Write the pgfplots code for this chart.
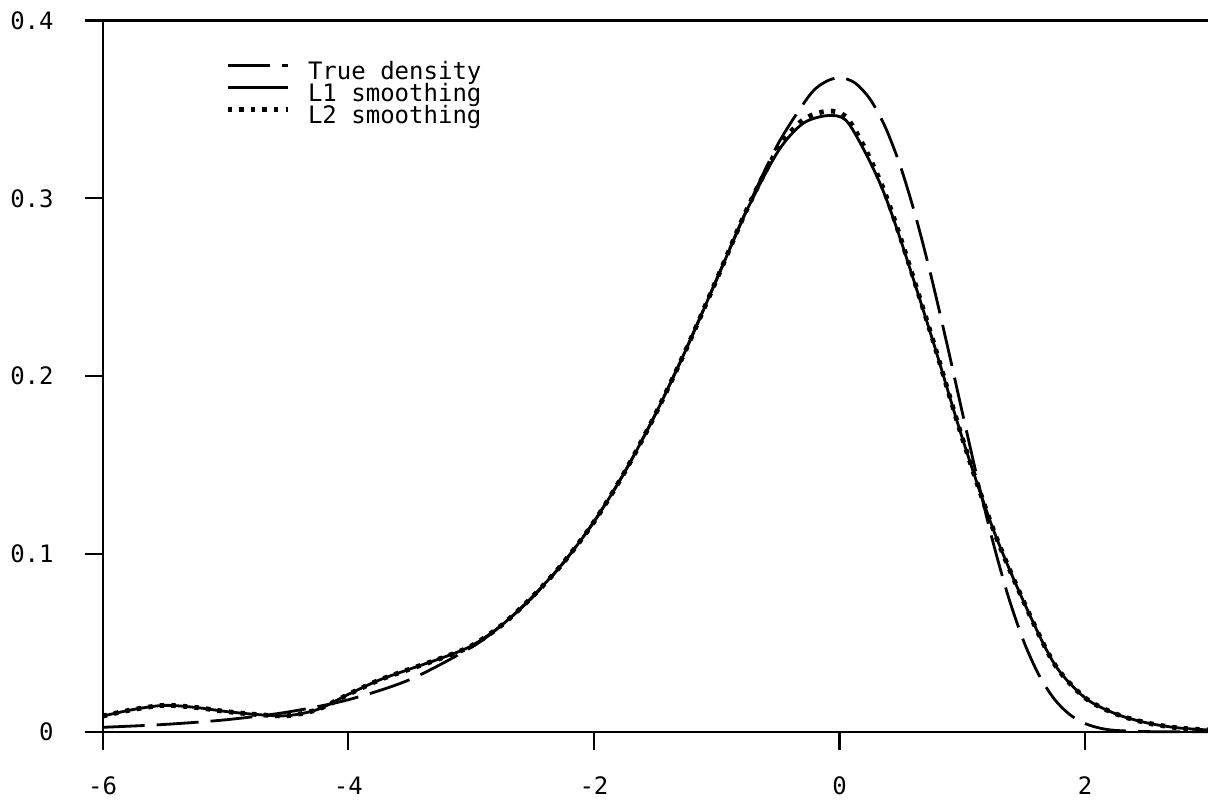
\documentclass[border=0pt]{standalone}
\usepackage{pgfplots}
\pgfplotsset{compat=1.18}
\usepackage{fontspec}
\setmonofont{DejaVu Sans Mono}
\begin{document}
\begin{tikzpicture}
\begin{axis}[
  scale only axis,
  width=552.65pt, height=355.6pt,
  xmin=-6, xmax=3, ymin=0, ymax=0.4,
  enlargelimits=false,
  axis lines*=left,
  axis line style={-, line width=1.1pt},
  tick align=outside,
  major tick length=9pt,
  tick style={line width=1.1pt, black},
  xtick={-6,-4,-2,0,2},
  xticklabels={-6,-4,-2,0,2},
  ytick={0,0.1,0.2,0.3,0.4},
  yticklabels={0,0.1,0.2,0.3,0.4},
  ticklabel style={font=\fontsize{12}{12}\selectfont\ttfamily},
  yticklabel style={xshift=-12pt},
  xticklabel style={yshift=-10pt},
  clip=false,
  legend style={draw=none, fill=none, at={(0.1105,0.941)}, anchor=north west,
    font=\fontsize{12}{12}\selectfont\ttfamily, inner sep=0pt,
    nodes={inner sep=0pt, text height=8.5pt, text depth=2pt},
    row sep=0.5pt, column sep=9pt},
  legend cell align=left,
  legend image code/.code={\draw[#1] (0pt,0.4em) -- (30pt,0.4em);},
]
\addplot[black, line width=1.4pt, dash pattern=on 21pt off 6pt, smooth] coordinates {
(-6,0.00247) (-5.5,0.00407) (-5,0.00669) (-4.5,0.01099) (-4,0.01798) (-3.5,0.02930)
(-3,0.04737) (-2.75,0.05997) (-2.5,0.07562) (-2.25,0.09486) (-2,0.11821) (-1.75,0.14606)
(-1.5,0.17851) (-1.25,0.21513) (-1,0.25465) (-0.75,0.29454) (-0.5,0.33071) (-0.25,0.35743)
(-0.125,0.36513) (0,0.36788) (0.125,0.36489) (0.25,0.35557) (0.375,0.33961) (0.5,0.31704)
(0.625,0.28845) (0.75,0.25488) (0.875,0.21789) (1,0.17937) (1.125,0.14155) (1.25,0.10643)
(1.375,0.07577) (1.5,0.05070) (1.625,0.03164) (1.75,0.01823) (1.875,0.00960) (2,0.00457)
(2.125,0.00193) (2.25,0.00072) (2.5,0.00006) (2.75,0.0) (3,0.0)
};
\addlegendentry{True density}
\addplot[black, line width=1.4pt, smooth] coordinates {
(-6,0.0088) (-5.75,0.0125) (-5.5,0.0148) (-5.25,0.0137) (-5,0.0114) (-4.75,0.0097)
(-4.5,0.0090) (-4.25,0.0125) (-4,0.0210) (-3.75,0.0290) (-3.5,0.0352) (-3.25,0.0412)
(-3,0.0482) (-2.75,0.0600) (-2.5,0.0760) (-2.25,0.0950) (-2,0.1180) (-1.75,0.1460)
(-1.5,0.1785) (-1.25,0.2150) (-1,0.2545) (-0.75,0.2940) (-0.5,0.3265) (-0.3,0.3420)
(-0.1,0.3465) (0.05,0.3440) (0.2,0.3270) (0.35,0.3050) (0.5,0.2760) (0.75,0.2220)
(1,0.1650) (1.25,0.1140) (1.5,0.0730) (1.75,0.0380) (2,0.0190) (2.25,0.0100)
(2.5,0.0050) (2.75,0.0022) (3,0.0010)
};
\addlegendentry{L1 smoothing}
\addplot[black, line width=2.4pt, dash pattern=on 2.2pt off 3.6pt, smooth] coordinates {
(-6,0.0088) (-5.75,0.0125) (-5.5,0.0148) (-5.25,0.0137) (-5,0.0114) (-4.75,0.0097)
(-4.5,0.0090) (-4.25,0.0125) (-4,0.0210) (-3.75,0.0290) (-3.5,0.0352) (-3.25,0.0412)
(-3,0.0482) (-2.75,0.0600) (-2.5,0.0760) (-2.25,0.0950) (-2,0.1180) (-1.75,0.1460)
(-1.5,0.1785) (-1.25,0.2150) (-1,0.2545) (-0.75,0.2945) (-0.5,0.3280) (-0.3,0.3440)
(-0.1,0.3490) (0.05,0.3460) (0.2,0.3290) (0.35,0.3065) (0.5,0.2770) (0.75,0.2225)
(1,0.1650) (1.25,0.1140) (1.5,0.0730) (1.75,0.0380) (2,0.0190) (2.25,0.0100)
(2.5,0.0050) (2.75,0.0022) (3,0.0010)
};
\addlegendentry{L2 smoothing}
\draw[line width=1.1pt] (rel axis cs:0,1) -- (rel axis cs:1,1);
\coordinate (bl) at (rel axis cs:0,0);
\coordinate (tr) at (rel axis cs:1,1);
\end{axis}
\pgfresetboundingbox
\path[use as bounding box] ([xshift=-51.35pt,yshift=-34.15pt]bl) rectangle ([yshift=10.25pt]tr);
\end{tikzpicture}
\end{document}
